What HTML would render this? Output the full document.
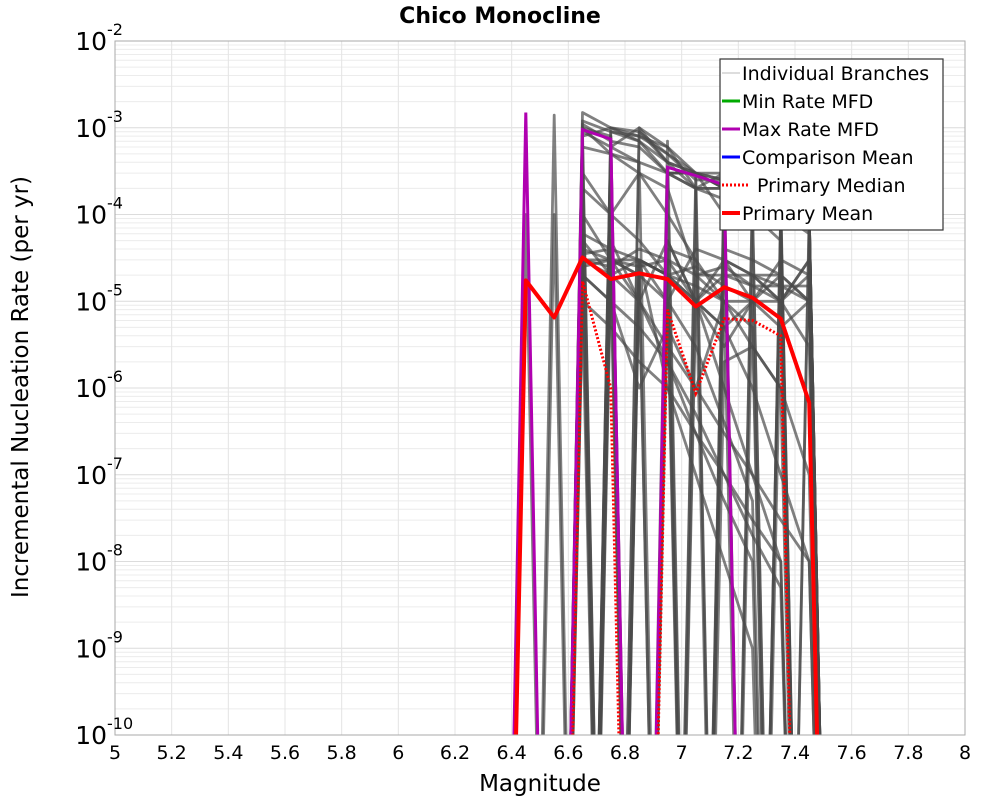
<!DOCTYPE html>
<html><head><meta charset="utf-8"><style>
html,body{margin:0;padding:0;background:#fff;overflow:hidden;width:1000px;height:800px;}
svg{display:block;}
svg text{font-family:"DejaVu Sans","Liberation Sans",sans-serif;}
</style></head><body>
<svg id="chart" width="1000" height="800" xmlns="http://www.w3.org/2000/svg">
<rect width="1000" height="800" fill="#fff"/>
<g id="grid"></g>
<g id="branches"></g>
<g id="series"></g>
<rect x="115" y="41" width="850" height="694" fill="none" stroke="#aaa" stroke-width="1"/>
<g id="yticks"></g>
<g id="xticks"></g>
<text x="500" y="23" text-anchor="middle" font-size="22" font-weight="bold">Chico Monocline</text>
<text x="540" y="791" text-anchor="middle" font-size="23">Magnitude</text>
<text transform="translate(28,387) rotate(-90)" text-anchor="middle" font-size="23">Incremental Nucleation Rate (per yr)</text>
<g>
<rect x="720" y="59" width="223" height="171" fill="#fff" stroke="#333" stroke-width="1.2"/>
<g><line x1="722" y1="73" x2="740" y2="73" stroke="#bbb" stroke-width="1"/><text x="742" y="80" font-size="19">Individual Branches</text></g>
<g><line x1="722" y1="101" x2="740" y2="101" stroke="#00aa00" stroke-width="3"/><text x="742" y="108" font-size="19">Min Rate MFD</text></g>
<g><line x1="722" y1="129" x2="740" y2="129" stroke="#b000b0" stroke-width="3"/><text x="742" y="136" font-size="19">Max Rate MFD</text></g>
<g><line x1="722" y1="157" x2="740" y2="157" stroke="#0000ff" stroke-width="3"/><text x="742" y="164" font-size="19">Comparison Mean</text></g>
<g><line x1="722" y1="185" x2="750" y2="185" stroke="#ff0000" stroke-width="3" stroke-dasharray="2,2"/><text x="757" y="192" font-size="19">Primary Median</text></g>
<g><line x1="722" y1="213" x2="740" y2="213" stroke="#ff0000" stroke-width="4"/><text x="742" y="220" font-size="19">Primary Mean</text></g>
</g>
</svg>
<script>
const mags = [6.35,6.45,6.55,6.65,6.75,6.85,6.95,7.05,7.15,7.25,7.35,7.45,7.55];
const primaryMean = [0,1.74e-5,6.5e-6,3.2e-5,1.8e-5,2.1e-5,1.8e-5,8.7e-6,1.45e-5,1.1e-5,6.3e-6,6.8e-7,0];
const primaryMedian = [0,0,0,1.7e-5,1e-6,0,8e-6,8.7e-7,6.3e-6,6e-6,4e-6,0,0];
const maxRate = [0,1.5e-3,0,9.5e-4,7.4e-4,0,3.5e-4,2.8e-4,2.2e-4,0,0,0,0];
const branches = [
[0,0,1.4e-3,0,0,0,0,0,0,0,0,0,0],
[0,0,1e-4,0,0,0,0,0,0,0,0,0,0],
[0,1e-4,0,0,0,0,0,0,0,0,0,0,0],
[0,0,0,1.5e-3,1e-3,8e-4,5e-4,3e-4,2.5e-4,2e-4,1.5e-4,1e-4,0],
[0,0,0,9e-4,6e-4,1e-3,4e-4,2e-4,3e-4,2e-4,1e-4,1e-4,0],
[0,0,0,4e-5,0,3e-5,2e-5,0,3e-5,2e-5,1.5e-5,1e-5,0],
[0,0,0,3e-5,2e-5,0,4e-5,3e-5,0,2e-5,2e-5,0,0],
[0,0,0,0,1e-3,7e-4,3e-4,3e-4,2e-4,2e-4,1e-4,6e-5,0],
[0,0,0,2e-5,1e-5,1e-6,5e-6,1e-6,1e-5,0,1e-5,3e-6,0],
[0,0,0,0,0,1e-3,6e-4,2e-4,2e-4,1.5e-4,1e-4,1e-4,0],
[0,0,0,1e-5,0,2e-5,0,1e-5,5e-6,1e-5,0,0,0],
[0,0,0,0,3e-5,2e-5,1e-5,0,2e-6,3e-6,1e-6,1e-7,0],
[0,0,0,5e-4,0,0,7e-4,0,3e-4,0,1e-4,0,0],
[0,0,0,0,0,0,1e-5,4e-5,3e-5,2e-5,1e-5,3e-5,0],
[0,0,0,2e-4,1e-4,5e-5,2e-5,1e-5,5e-6,1e-6,1e-7,1e-8,0],
[0,0,0,0,0,0,0,3e-4,1e-4,1e-4,5e-5,0,0],
[0,0,0,3e-5,3e-5,3e-5,1e-6,1e-7,1e-8,1e-9,0,0,0],
[0,0,0,0,8e-4,0,0,0,2e-4,1e-4,0,8e-5,0],
[0,0,0,1e-5,5e-6,2e-6,1e-6,3e-7,1e-7,3e-8,1e-8,0,0],
[0,0,0,0,2e-5,3e-5,2e-5,1e-5,3e-5,1e-5,1e-5,3e-5,0],
[0,0,0,1e-3,5e-4,3e-4,2e-4,2e-5,1e-5,5e-6,0,0,0],
[0,0,0,0,0,0,3e-4,3e-4,3e-4,2e-4,2e-4,1e-4,0],
[0,0,0,0,1e-4,3e-4,1e-4,3e-5,1e-5,3e-6,1e-6,0,0],
[0,0,0,5e-5,2e-5,1e-5,5e-5,1e-5,3e-6,1e-5,3e-5,2e-5,0],
[0,0,0,1.2e-3,9e-4,7e-4,4e-4,3e-4,2e-4,1.5e-4,1.2e-4,8e-5,0],
[0,0,0,8e-4,1e-3,9e-4,5e-4,2.5e-4,2.5e-4,1.8e-4,1.3e-4,9e-5,0],
[0,0,0,1.1e-3,7e-4,6e-4,3e-4,3e-4,2e-4,2e-4,1.5e-4,0,0],
[0,0,0,0,9e-4,8e-4,6e-4,3e-4,2.5e-4,1.2e-4,0,1e-4,0],
[0,0,0,7e-4,0,9e-4,4e-4,3e-4,0,2e-4,1e-4,7e-5,0],
[0,0,0,1e-3,8e-4,0,3e-4,2e-4,2e-4,0,1.2e-4,1e-4,0],
[0,0,0,6e-4,5e-4,4e-4,0,2e-4,1.5e-4,1.2e-4,1e-4,0,0],
[0,0,0,4e-5,3e-5,2.5e-5,3e-5,2e-5,2e-5,1.5e-5,1e-5,2e-5,0],
[0,0,0,3.5e-5,4e-5,3e-5,2e-5,2.5e-5,1.5e-5,1e-5,2e-5,1e-5,0],
[0,0,0,3e-5,2.5e-5,4e-5,3e-5,1e-5,2e-5,2e-5,1e-5,0,0],
[0,0,0,2.5e-5,3e-5,2e-5,0,2e-5,2.5e-5,1.5e-5,1.5e-5,1.5e-5,0],
[0,0,0,4e-5,0,3e-5,2e-5,1.5e-5,1e-5,1e-5,5e-6,1e-5,0],
[0,0,0,2e-5,1e-5,5e-6,2e-6,5e-7,1e-7,2e-8,5e-9,0,0],
[0,0,0,1e-4,3e-5,1e-5,3e-6,1e-6,3e-7,1e-7,3e-8,1e-8,0],
[0,0,0,0,5e-5,1e-5,2e-6,3e-7,5e-8,1e-8,0,0,0],
[0,0,0,3e-4,1e-4,0,5e-5,1e-5,1e-6,1e-7,1e-8,0,0],
[0,0,0,0,0,3e-5,1e-5,3e-6,4e-7,5e-8,0,0,0],
[0,0,0,6e-5,4e-5,0,3e-5,0,4e-5,3e-5,2e-5,1e-5,0],
[0,0,0,0,6e-4,4e-4,3e-4,2e-4,0,1.5e-4,1.2e-4,8e-5,0],
[0,0,0,9e-4,0,0,3e-4,0,2e-4,0,1e-4,0,0]
];
const xTicks = [5,5.2,5.4,5.6,5.8,6,6.2,6.4,6.6,6.8,7,7.2,7.4,7.6,7.8,8];
const yExps = [-2,-3,-4,-5,-6,-7,-8,-9,-10];

const NS = "http://www.w3.org/2000/svg";
const L=115,R=965,T=41,B=735;
function xs(m){return L+(m-5)/3*(R-L);}
function ys(v){const lv = v>0?Math.log10(v):-20;return T+(-2-lv)/8*(B-T);}
function mk(tag,attrs,parent){const e=document.createElementNS(NS,tag);for(const k in attrs)e.setAttribute(k,attrs[k]);parent.appendChild(e);return e;}

const grid=document.getElementById('grid');
for(let e=-10;e<-2;e++){for(let k=1;k<10;k++){const y=ys(k*Math.pow(10,e));
const ln=mk('line',{x1:L,x2:R,y1:y,y2:y,stroke:k==1?'#dcdcdc':'#ececec','stroke-width':1},grid);

}}
xTicks.forEach(t=>{const x=xs(t);const ln=mk('line',{x1:x,x2:x,y1:T,y2:B,stroke:'#e4e4e4','stroke-width':1},grid);

});

const clip=mk('clipPath',{id:'pc'},document.getElementById('chart'));
mk('rect',{x:L,y:T-30,width:R-L,height:B-T+30},clip);

function pts(arr){return arr.map((v,i)=>xs(mags[i]).toFixed(1)+','+ys(v).toFixed(1)).join(' ');}
const bg=document.getElementById('branches');
bg.setAttribute('clip-path','url(#pc)');
branches.forEach(b=>{const p=mk('polyline',{points:pts(b),fill:'none',stroke:'#4a4a4a','stroke-width':2.8,'stroke-opacity':0.7,'stroke-linejoin':'round'},bg);

});

const sg=document.getElementById('series');
sg.setAttribute('clip-path','url(#pc)');
const mx=mk('polyline',{points:pts(maxRate),fill:'none',stroke:'#b000b0','stroke-width':3},sg);


const md=mk('polyline',{points:pts(primaryMedian),fill:'none',stroke:'#ff0000','stroke-width':3,'stroke-dasharray':'2,2'},sg);


const mn=mk('polyline',{points:pts(primaryMean),fill:'none',stroke:'#ff0000','stroke-width':4,'stroke-linejoin':'round'},sg);



const yt=document.getElementById('yticks');
yExps.forEach(e=>{const y=ys(Math.pow(10,e));
const t=mk('text',{x:107,y:y+9,'text-anchor':'end','font-size':25},yt);
t.textContent='10';


const s=mk('text',{x:107,y:y-6,'font-size':16},yt);
s.textContent=String(e);

});

const xt=document.getElementById('xticks');
xTicks.forEach(v=>{const t=mk('text',{x:xs(v),y:759,'text-anchor':'middle','font-size':19},xt);
t.textContent=String(Math.round(v*10)/10);

});
</script>
</body></html>
